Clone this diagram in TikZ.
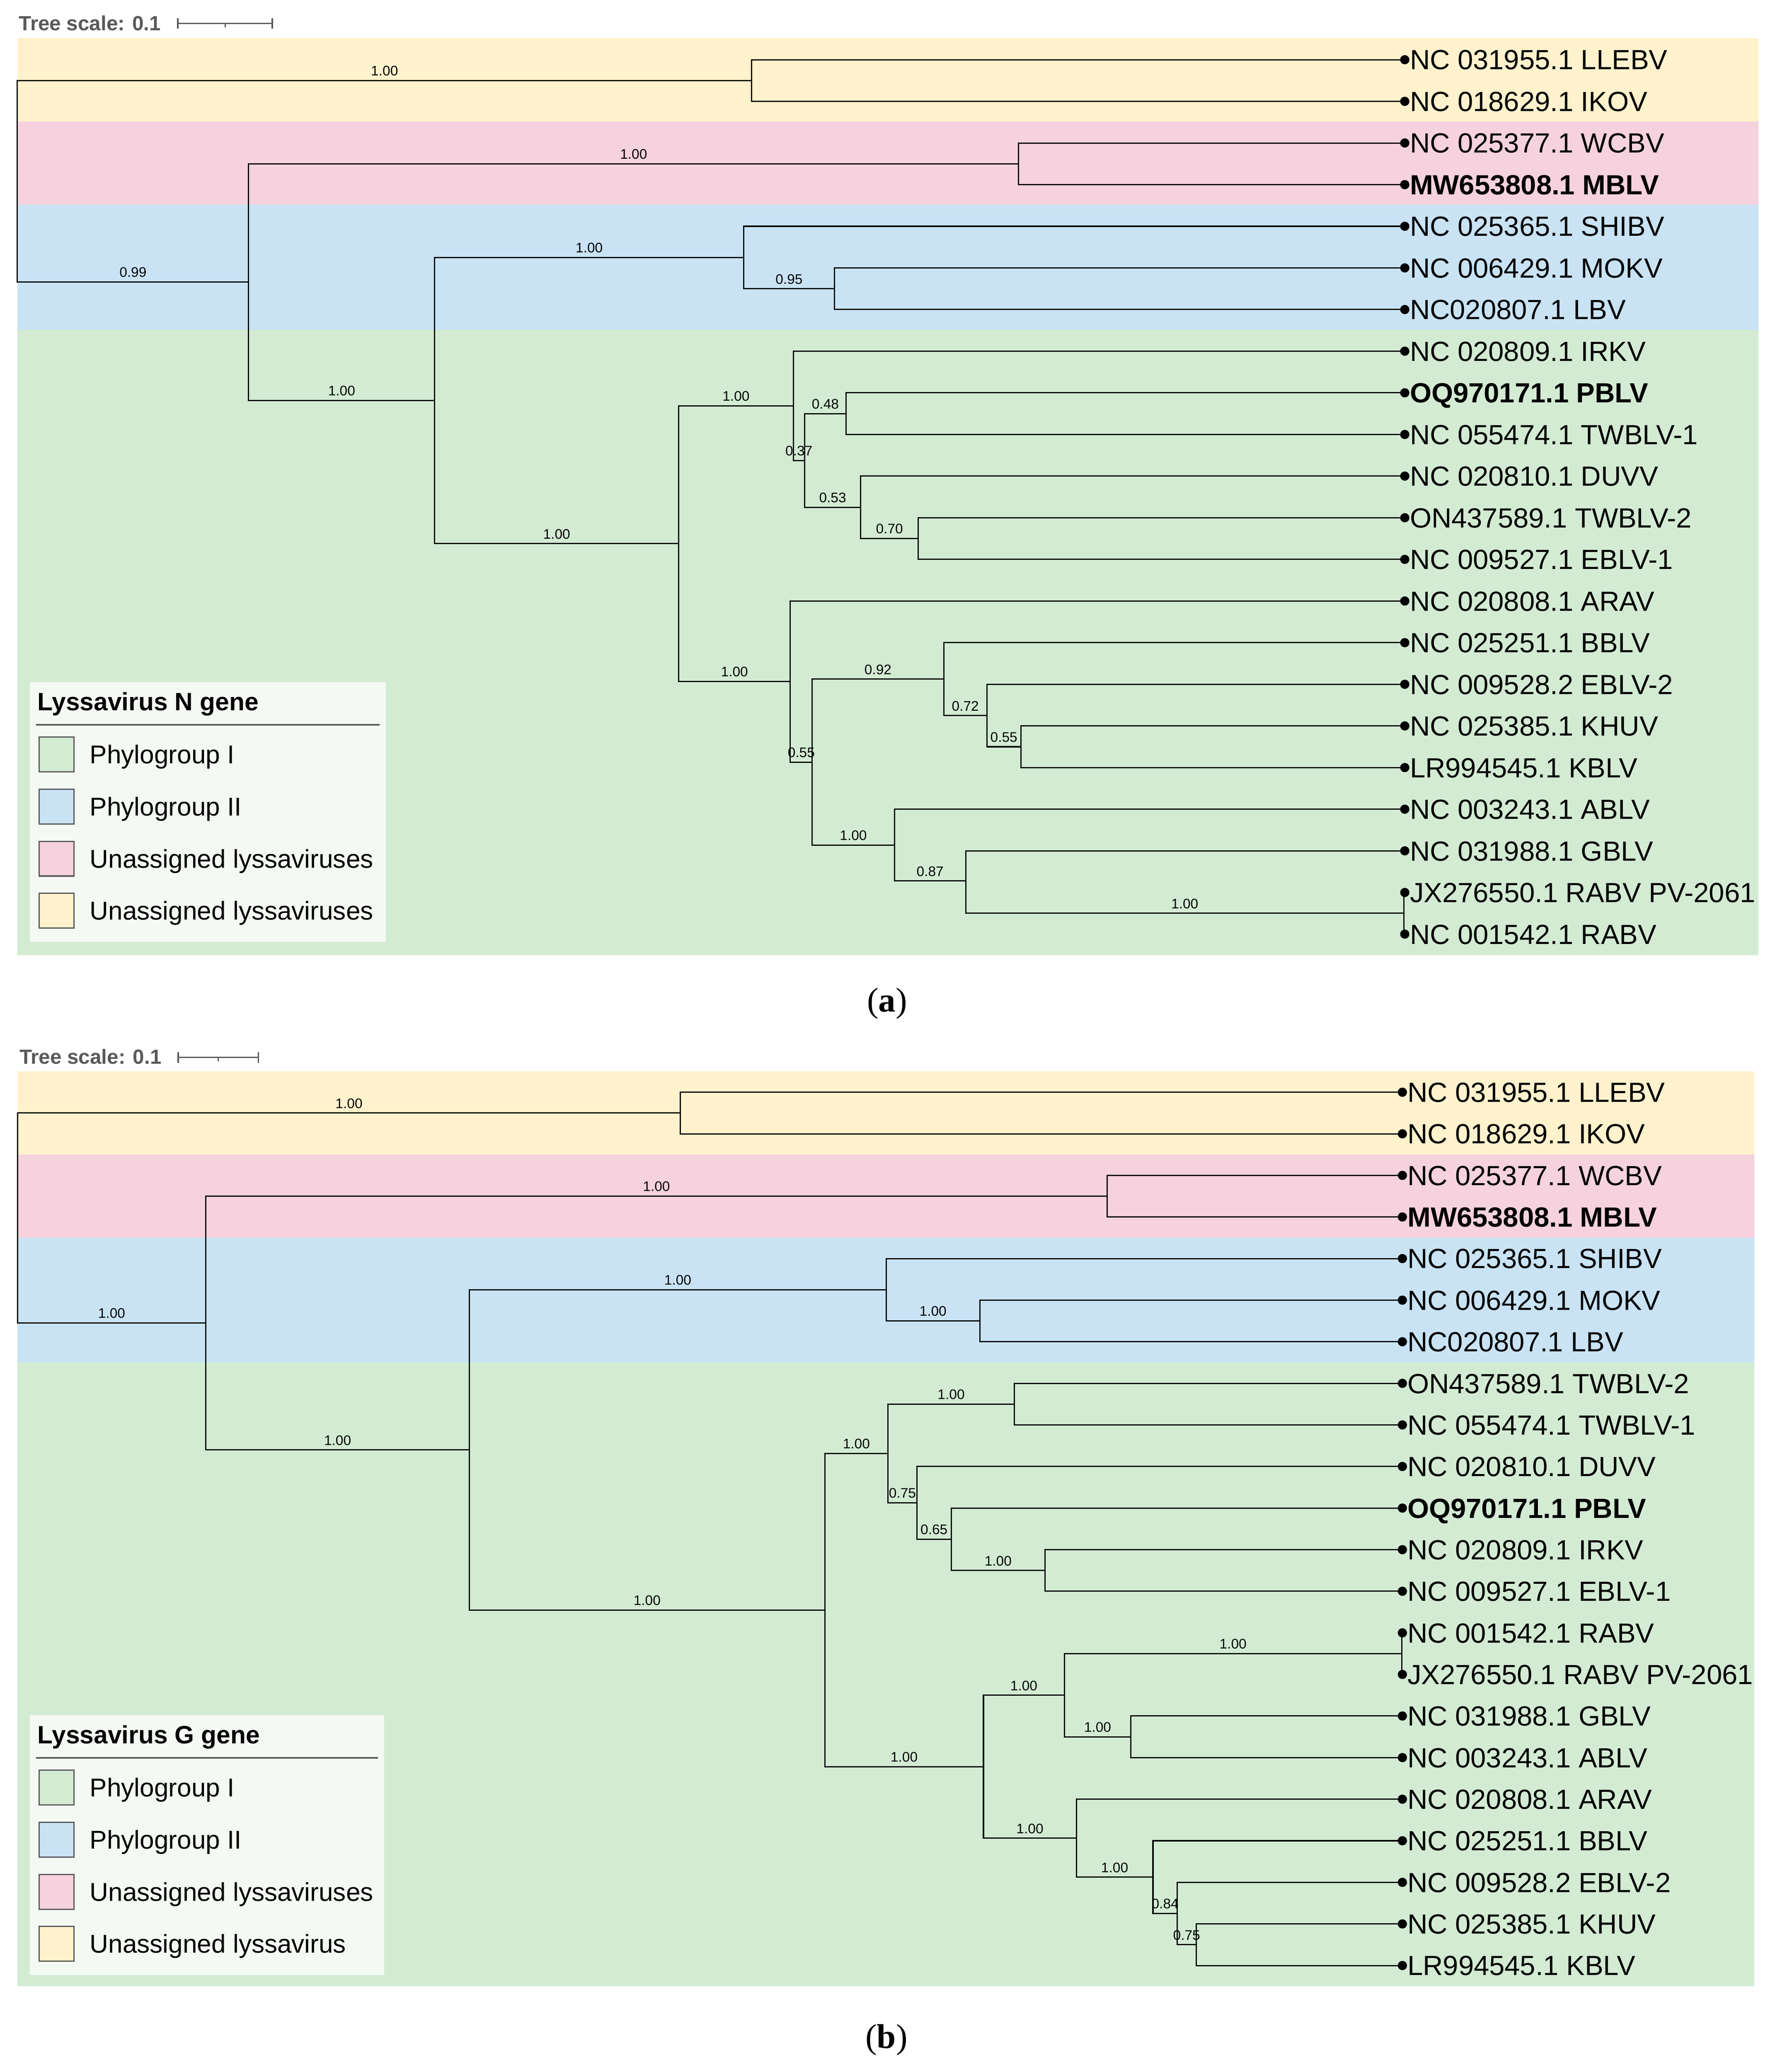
\documentclass[tikz,border=0pt]{standalone}
\usepackage{fontspec}
\setmainfont{Liberation Sans}
\newfontfamily\capfont{Liberation Serif}
\definecolor{cyel}{HTML}{FFF2CC}
\definecolor{cpnk}{HTML}{F5D2DE}
\definecolor{cblu}{HTML}{C9E3F5}
\definecolor{cgrn}{HTML}{D3EBD3}
\definecolor{clgd}{HTML}{F5F9F4}
\definecolor{cgry}{HTML}{595959}
\newcommand\lfnode[4]{\node[leafdot,label={[leaftext]right:#4}] (#1) at (#2,#3) {};}
\begin{document}
\begin{tikzpicture}[x=1pt,y=-1pt,
  branch/.style={draw=black, line width=0.95pt, line cap=rect},
  leafdot/.style={circle, fill=black, inner sep=0pt, minimum size=7pt, label distance=1.5pt},
  leaftext/.style={inner sep=0pt, font=\fontsize{21}{25}\selectfont, text height=15pt, text depth=0pt},
  blabel/.style={anchor=south, yshift=3.2pt, inner sep=0pt, font=\fontsize{10.5}{12}\selectfont, text depth=0pt},
  swatch/.style={draw=cgry, line width=1pt, minimum size=26.3pt, inner sep=0pt},
  lgtext/.style={anchor=west, inner sep=0pt, font=\fontsize{19.5}{23}\selectfont, text height=14pt, text depth=0pt},
  lgtitle/.style={anchor=base west, inner sep=0pt, font=\bfseries\fontsize{19}{23}\selectfont},
  scaletext/.style={anchor=west, inner sep=0pt, text=cgry, font=\bfseries\fontsize{15.5}{18}\selectfont, text height=11.1pt, text depth=0pt},
  scalebar/.style={draw=cgry, line width=1pt},
  captext/.style={font=\capfont\fontsize{26}{30}\selectfont, inner sep=0pt}]
\useasboundingbox (0,0) rectangle (1338,1568.5);
% ================= PANEL (a) =================
\fill[cyel] (13.1,28.9) rectangle (1331,92.0);
\fill[cpnk] (13.1,92.0) rectangle (1331,155.1);
\fill[cblu] (13.1,155.1) rectangle (1331,249.8);
\fill[cgrn] (13.1,249.8) rectangle (1331,723.0);
% tree scale
\node[scaletext] (tsa) at (14.1,17.4) {Tree scale: 0.1};
\draw[scalebar] (134.6,17.8) -- (206.1,17.8);
\draw[scalebar] (134.6,13.9) -- (134.6,21.8);
\draw[scalebar] (206.1,13.9) -- (206.1,21.8);
\draw[scalebar] (170.4,17.8) -- (170.4,20.6);
% legend
\fill[clgd] (22.7,516.2) rectangle (291.9,713.0);
\node[lgtitle] (lta) at (28.3,537.8) {Lyssavirus N gene};
\draw[draw=cgry, line width=1.2pt] (27.3,548.7) -- (287.5,548.7);
\node[swatch, fill=cgrn] (sa1) at (42.85,571.0) {};
\node[swatch, fill=cblu] (sa2) at (42.85,610.6) {};
\node[swatch, fill=cpnk] (sa3) at (42.85,650.0) {};
\node[swatch, fill=cyel] (sa4) at (42.85,689.3) {};
\node[lgtext] (la1) at (67.8,571.0) {Phylogroup I};
\node[lgtext] (la2) at (67.8,610.6) {Phylogroup II};
\node[lgtext] (la3) at (67.8,650.0) {Unassigned lyssaviruses};
\node[lgtext] (la4) at (67.8,689.3) {Unassigned lyssaviruses};
% leaves
\lfnode{a1}{1063.3}{45.2}{NC 031955.1 LLEBV}
\lfnode{a2}{1063.3}{76.72}{NC 018629.1 IKOV}
\lfnode{a3}{1063.3}{108.24}{NC 025377.1 WCBV}
\lfnode{a4}{1063.3}{139.76}{\textbf{MW653808.1 MBLV}}
\lfnode{a5}{1063.3}{171.28}{NC 025365.1 SHIBV}
\lfnode{a6}{1063.3}{202.8}{NC 006429.1 MOKV}
\lfnode{a7}{1063.3}{234.32}{NC020807.1 LBV}
\lfnode{a8}{1063.3}{265.84}{NC 020809.1 IRKV}
\lfnode{a9}{1063.3}{297.36}{\textbf{OQ970171.1 PBLV}}
\lfnode{a10}{1063.3}{328.88}{NC 055474.1 TWBLV-1}
\lfnode{a11}{1063.3}{360.4}{NC 020810.1 DUVV}
\lfnode{a12}{1063.3}{391.92}{ON437589.1 TWBLV-2}
\lfnode{a13}{1063.3}{423.44}{NC 009527.1 EBLV-1}
\lfnode{a14}{1063.3}{454.96}{NC 020808.1 ARAV}
\lfnode{a15}{1063.3}{486.48}{NC 025251.1 BBLV}
\lfnode{a16}{1063.3}{518.0}{NC 009528.2 EBLV-2}
\lfnode{a17}{1063.3}{549.52}{NC 025385.1 KHUV}
\lfnode{a18}{1063.3}{581.04}{LR994545.1 KBLV}
\lfnode{a19}{1063.3}{612.56}{NC 003243.1 ABLV}
\lfnode{a20}{1063.3}{644.08}{NC 031988.1 GBLV}
\lfnode{a21}{1063.3}{675.6}{JX276550.1 RABV PV-2061}
\lfnode{a22}{1063.3}{707.12}{NC 001542.1 RABV}
% internal nodes
\coordinate (aR) at (13.1,136.9);
\coordinate (aA) at (569,60.96);
\coordinate (aB) at (188.2,213.5);
\coordinate (aC) at (771,124.0);
\coordinate (aD) at (329,303.2);
\coordinate (aE) at (563,194.92);
\coordinate (aF) at (631.5,218.56);
\coordinate (aG) at (513.7,411.55);
\coordinate (aH) at (600.5,307.2);
\coordinate (aI) at (609,348.57);
\coordinate (aJ1) at (640.4,313.12);
\coordinate (aJ2) at (651.5,384.0);
\coordinate (aK) at (695,407.68);
\coordinate (aT) at (598.2,515.9);
\coordinate (aU) at (614.8,576.9);
\coordinate (aV) at (714.3,514.1);
\coordinate (aX) at (747,541.74);
\coordinate (aY) at (772.7,565.28);
\coordinate (aW) at (677,639.7);
\coordinate (aZ) at (731,666.86);
\coordinate (aAA) at (1062.5,691.36);
% branches
\draw[branch] (aR) |- (aA) node[blabel,pos=0.75] {1.00};
\draw[branch] (aR) |- (aB) node[blabel,pos=0.75] {0.99};
\draw[branch] (aA) |- (a1.center);
\draw[branch] (aA) |- (a2.center);
\draw[branch] (aB) |- (aC) node[blabel,pos=0.75] {1.00};
\draw[branch] (aC) |- (a3.center);
\draw[branch] (aC) |- (a4.center);
\draw[branch] (aB) |- (aD) node[blabel,pos=0.75] {1.00};
\draw[branch] (aD) |- (aE) node[blabel,pos=0.75] {1.00};
\draw[branch] (aE) |- (a5.center);
\draw[branch] (aE) |- (aF) node[blabel,pos=0.75] {0.95};
\draw[branch] (aF) |- (a6.center);
\draw[branch] (aF) |- (a7.center);
\draw[branch] (aD) |- (aG) node[blabel,pos=0.75] {1.00};
\draw[branch] (aG) |- (aH) node[blabel,pos=0.75] {1.00};
\draw[branch] (aH) |- (a8.center);
\draw[branch] (aH) |- (aI) node[blabel,pos=0.75] {0.37};
\draw[branch] (aI) |- (aJ1) node[blabel,pos=0.75] {0.48};
\draw[branch] (aJ1) |- (a9.center);
\draw[branch] (aJ1) |- (a10.center);
\draw[branch] (aI) |- (aJ2) node[blabel,pos=0.75] {0.53};
\draw[branch] (aJ2) |- (a11.center);
\draw[branch] (aJ2) |- (aK) node[blabel,pos=0.75] {0.70};
\draw[branch] (aK) |- (a12.center);
\draw[branch] (aK) |- (a13.center);
\draw[branch] (aG) |- (aT) node[blabel,pos=0.75] {1.00};
\draw[branch] (aT) |- (a14.center);
\draw[branch] (aT) |- (aU) node[blabel,pos=0.75] {0.55};
\draw[branch] (aU) |- (aV) node[blabel,pos=0.75] {0.92};
\draw[branch] (aV) |- (a15.center);
\draw[branch] (aV) |- (aX) node[blabel,pos=0.75] {0.72};
\draw[branch] (aX) |- (a16.center);
\draw[branch] (aX) |- (aY) node[blabel,pos=0.75] {0.55};
\draw[branch] (aY) |- (a17.center);
\draw[branch] (aY) |- (a18.center);
\draw[branch] (aU) |- (aW) node[blabel,pos=0.75] {1.00};
\draw[branch] (aW) |- (a19.center);
\draw[branch] (aW) |- (aZ) node[blabel,pos=0.75] {0.87};
\draw[branch] (aZ) |- (a20.center);
\draw[branch] (aZ) |- (aAA) node[blabel,pos=0.75] {1.00};
\draw[branch] (aAA) |- (a21.center);
\draw[branch] (aAA) |- (a22.center);
\node[captext] (capa) at (671.5,759.5) {(\textbf{a})};
% ================= PANEL (b) =================
\fill[cyel] (13.3,811.06) rectangle (1328,874.02);
\fill[cpnk] (13.3,874.02) rectangle (1328,936.98);
\fill[cblu] (13.3,936.98) rectangle (1328,1031.42);
\fill[cgrn] (13.3,1031.42) rectangle (1328,1503.6);
\node[scaletext] (tsb) at (14.6,800.0) {Tree scale: 0.1};
\draw[scalebar] (134.9,800.5) -- (195.5,800.5);
\draw[scalebar] (134.9,796.6) -- (134.9,804.5);
\draw[scalebar] (195.5,796.6) -- (195.5,804.5);
\draw[scalebar] (165.2,800.5) -- (165.2,803.3);
% legend
\fill[clgd] (22.7,1298.3) rectangle (290.7,1495.0);
\node[lgtitle] (ltb) at (28.3,1319.9) {Lyssavirus G gene};
\draw[draw=cgry, line width=1.2pt] (27.3,1330.8) -- (286.2,1330.8);
\node[swatch, fill=cgrn] (sb1) at (42.85,1353.1) {};
\node[swatch, fill=cblu] (sb2) at (42.85,1392.7) {};
\node[swatch, fill=cpnk] (sb3) at (42.85,1432.1) {};
\node[swatch, fill=cyel] (sb4) at (42.85,1471.4) {};
\node[lgtext] (lb1) at (67.8,1353.1) {Phylogroup I};
\node[lgtext] (lb2) at (67.8,1392.7) {Phylogroup II};
\node[lgtext] (lb3) at (67.8,1432.1) {Unassigned lyssaviruses};
\node[lgtext] (lb4) at (67.8,1471.4) {Unassigned lyssavirus};
% leaves
\lfnode{b1}{1061.5}{826.8}{NC 031955.1 LLEBV}
\lfnode{b2}{1061.5}{858.28}{NC 018629.1 IKOV}
\lfnode{b3}{1061.5}{889.76}{NC 025377.1 WCBV}
\lfnode{b4}{1061.5}{921.24}{\textbf{MW653808.1 MBLV}}
\lfnode{b5}{1061.5}{952.72}{NC 025365.1 SHIBV}
\lfnode{b6}{1061.5}{984.2}{NC 006429.1 MOKV}
\lfnode{b7}{1061.5}{1015.68}{NC020807.1 LBV}
\lfnode{b8}{1061.5}{1047.16}{ON437589.1 TWBLV-2}
\lfnode{b9}{1061.5}{1078.64}{NC 055474.1 TWBLV-1}
\lfnode{b10}{1061.5}{1110.12}{NC 020810.1 DUVV}
\lfnode{b11}{1061.5}{1141.6}{\textbf{OQ970171.1 PBLV}}
\lfnode{b12}{1061.5}{1173.08}{NC 020809.1 IRKV}
\lfnode{b13}{1061.5}{1204.56}{NC 009527.1 EBLV-1}
\lfnode{b14}{1061.5}{1236.04}{NC 001542.1 RABV}
\lfnode{b15}{1061.5}{1267.52}{JX276550.1 RABV PV-2061}
\lfnode{b16}{1061.5}{1299.0}{NC 031988.1 GBLV}
\lfnode{b17}{1061.5}{1330.48}{NC 003243.1 ABLV}
\lfnode{b18}{1061.5}{1361.96}{NC 020808.1 ARAV}
\lfnode{b19}{1061.5}{1393.44}{NC 025251.1 BBLV}
\lfnode{b20}{1061.5}{1424.92}{NC 009528.2 EBLV-2}
\lfnode{b21}{1061.5}{1456.4}{NC 025385.1 KHUV}
\lfnode{b22}{1061.5}{1487.88}{LR994545.1 KBLV}
% internal nodes
\coordinate (bR) at (13.3,922.0);
\coordinate (bA) at (515,842.54);
\coordinate (bB) at (155.8,1001.54);
\coordinate (bC) at (838,905.5);
\coordinate (bD) at (355.3,1097.58);
\coordinate (bE) at (670.8,976.33);
\coordinate (bF) at (741.6,999.94);
\coordinate (bG) at (624.3,1218.82);
\coordinate (bH) at (672.1,1100.28);
\coordinate (bTW) at (767.8,1062.9);
\coordinate (bI) at (694,1137.67);
\coordinate (bJ) at (720,1165.21);
\coordinate (bK) at (791,1188.82);
\coordinate (bL) at (744.4,1337.37);
\coordinate (bM) at (805.6,1283.26);
\coordinate (bN) at (1061,1251.78);
\coordinate (bO) at (856,1314.74);
\coordinate (bP) at (814.7,1391.47);
\coordinate (bQ) at (872.7,1420.99);
\coordinate (bRR) at (891,1448.53);
\coordinate (bS) at (905.4,1472.14);
% branches
\draw[branch] (bR) |- (bA) node[blabel,pos=0.75] {1.00};
\draw[branch] (bA) |- (b1.center);
\draw[branch] (bA) |- (b2.center);
\draw[branch] (bR) |- (bB) node[blabel,pos=0.75] {1.00};
\draw[branch] (bB) |- (bC) node[blabel,pos=0.75] {1.00};
\draw[branch] (bC) |- (b3.center);
\draw[branch] (bC) |- (b4.center);
\draw[branch] (bB) |- (bD) node[blabel,pos=0.75] {1.00};
\draw[branch] (bD) |- (bE) node[blabel,pos=0.75] {1.00};
\draw[branch] (bE) |- (b5.center);
\draw[branch] (bE) |- (bF) node[blabel,pos=0.75] {1.00};
\draw[branch] (bF) |- (b6.center);
\draw[branch] (bF) |- (b7.center);
\draw[branch] (bD) |- (bG) node[blabel,pos=0.75] {1.00};
\draw[branch] (bG) |- (bH) node[blabel,pos=0.75] {1.00};
\draw[branch] (bH) |- (bTW) node[blabel,pos=0.75] {1.00};
\draw[branch] (bTW) |- (b8.center);
\draw[branch] (bTW) |- (b9.center);
\draw[branch] (bH) |- (bI) node[blabel,pos=0.75] {0.75};
\draw[branch] (bI) |- (b10.center);
\draw[branch] (bI) |- (bJ) node[blabel,pos=0.75] {0.65};
\draw[branch] (bJ) |- (b11.center);
\draw[branch] (bJ) |- (bK) node[blabel,pos=0.75] {1.00};
\draw[branch] (bK) |- (b12.center);
\draw[branch] (bK) |- (b13.center);
\draw[branch] (bG) |- (bL) node[blabel,pos=0.75] {1.00};
\draw[branch] (bL) |- (bM) node[blabel,pos=0.75] {1.00};
\draw[branch] (bM) |- (bN) node[blabel,pos=0.75] {1.00};
\draw[branch] (bN) |- (b14.center);
\draw[branch] (bN) |- (b15.center);
\draw[branch] (bM) |- (bO) node[blabel,pos=0.75] {1.00};
\draw[branch] (bO) |- (b16.center);
\draw[branch] (bO) |- (b17.center);
\draw[branch] (bL) |- (bP) node[blabel,pos=0.75] {1.00};
\draw[branch] (bP) |- (b18.center);
\draw[branch] (bP) |- (bQ) node[blabel,pos=0.75] {1.00};
\draw[branch] (bQ) |- (b19.center);
\draw[branch] (bQ) |- (bRR) node[blabel,pos=0.75] {0.84};
\draw[branch] (bRR) |- (b20.center);
\draw[branch] (bRR) |- (bS) node[blabel,pos=0.75] {0.75};
\draw[branch] (bS) |- (b21.center);
\draw[branch] (bS) |- (b22.center);
\node[captext] (capb) at (671,1544.3) {(\textbf{b})};
\end{tikzpicture}
\end{document}
